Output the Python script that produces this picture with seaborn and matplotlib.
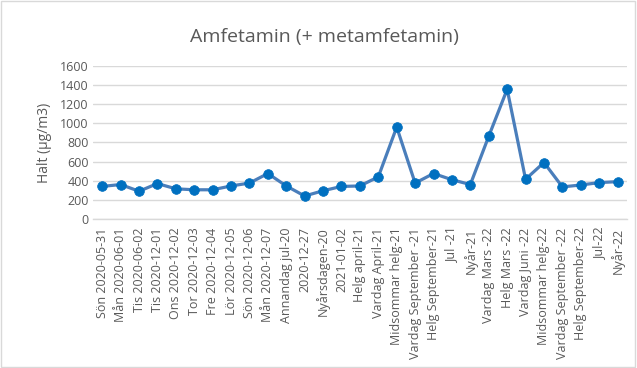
import matplotlib
matplotlib.use("Agg")
import matplotlib.pyplot as plt
import seaborn as sns
import pandas as pd
from matplotlib.patches import Rectangle

# Sampling occasions (category axis)
occasions = [
    "Sön 2020-05-31", "Mån 2020-06-01", "Tis 2020-06-02", "Tis 2020-12-01",
    "Ons 2020-12-02", "Tor 2020-12-03", "Fre 2020-12-04", "Lör 2020-12-05",
    "Sön 2020-12-06", "Mån 2020-12-07", "Annandag jul-20", "2020-12-27",
    "Nyårsdagen-20", "2021-01-02", "Helg april-21", "Vardag April-21",
    "Midsommar helg-21", "Vardag September -21", "Helg September-21",
    "Jul -21", "Nyår-21", "Vardag Mars -22", "Helg Mars -22",
    "Vardag Juni -22", "Midsommar helg-22", "Vardag September -22",
    "Helg September-22", "Jul-22", "Nyår-22",
]

# Concentration, µg/m3
halt = [
    340, 360, 290, 370, 315, 305, 305, 345, 375, 475, 345, 240,
    295, 340, 345, 440, 960, 375, 475, 410, 360, 865, 1355, 415,
    590, 335, 355, 380, 390,
]

y_ticks = [0, 200, 400, 600, 800, 1000, 1200, 1400, 1600]

sns.set_theme(style="white")
plt.rcParams["font.family"] = ["Open Sans", "DejaVu Sans"]

df = pd.DataFrame({"pos": range(len(occasions)), "halt": halt})

fig = plt.figure(figsize=(6.37, 3.68), dpi=100)
ax = fig.add_axes([0.146, 0.405, 0.838, 0.416])

sns.lineplot(
    data=df, x="pos", y="halt", ax=ax,
    color="#4A7EBB", linewidth=2.3,
    marker="o", markersize=7, markerfacecolor="#0070C0",
    markeredgecolor="#0070C0", markeredgewidth=0.5,
)

text_col = "#595959"
ax.set_xlim(-0.5, len(occasions) - 0.5)
ax.set_ylim(0, 1600)
ax.set_yticks(y_ticks)
ax.set_yticklabels([str(v) for v in y_ticks], fontsize=9, color=text_col)
ax.set_xticks(range(len(occasions)))
ax.set_xticklabels(occasions, rotation=90, fontsize=9, color=text_col)
ax.tick_params(axis="both", length=0, pad=3)
ax.tick_params(axis="x", pad=6)

ax.yaxis.grid(True, color="#D9D9D9", linewidth=1)
ax.set_axisbelow(True)
for side in ("top", "right", "left"):
    ax.spines[side].set_visible(False)
ax.spines["bottom"].set_color("#D9D9D9")
ax.spines["bottom"].set_linewidth(1)

ax.set_xlabel("")
ax.set_ylabel("Halt (µg/m3)", fontsize=10, color=text_col, labelpad=6)

fig.text(0.51, 0.9, "Amfetamin (+ metamfetamin)", ha="center", va="center",
         fontsize=14, color=text_col)

# Chart border
fig.patches.append(Rectangle((0.002, 0.003), 0.995, 0.994, transform=fig.transFigure,
                             fill=False, edgecolor="#D9D9D9", linewidth=1))

fig.savefig("out.png", dpi=100)
